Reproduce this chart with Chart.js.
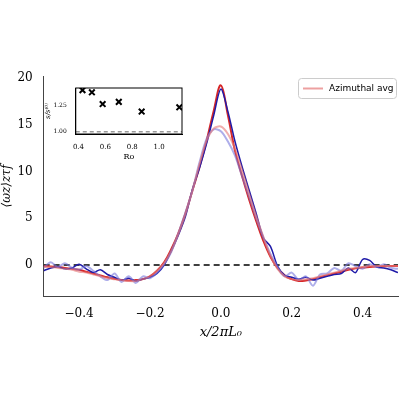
<!DOCTYPE html>
<html><head><script src="https://cdn.jsdelivr.net/npm/chart.js@4"></script>
<style>body{margin:0;background:#fff}#w{position:relative;width:400px;height:400px}
#ins{position:absolute;left:44px;top:82px;width:144px;height:80px;background:#fff}</style></head>
<body><div id="w"><canvas id="c" width="400" height="400"></canvas><div id="ins"><canvas id="c2" width="144" height="80"></canvas></div></div>
<script>
const xs=[-0.5,-0.48,-0.46,-0.44,-0.42,-0.4,-0.38,-0.36,-0.34,-0.32,-0.3,-0.28,-0.26,-0.24,-0.22,-0.2,-0.18,-0.16,-0.14,-0.12,-0.1,-0.08,-0.06,-0.04,-0.02,0,0.02,0.04,0.06,0.08,0.1,0.12,0.14,0.16,0.18,0.2,0.22,0.24,0.26,0.28,0.3,0.32,0.34,0.36,0.38,0.4,0.42,0.44,0.46,0.48,0.5];
const fitY=[-0.1,-0.15,-0.2,-0.3,-0.4,-0.5,-0.7,-0.9,-1.1,-1.3,-1.45,-1.6,-1.65,-1.6,-1.5,-1.2,-0.6,0.3,1.7,3.4,5.5,8,10.5,13.3,16.5,19.2,16,12.2,9.5,7,4.7,2.6,0.9,-0.3,-1.1,-1.5,-1.7,-1.65,-1.5,-1.3,-1.1,-0.9,-0.7,-0.5,-0.35,-0.25,-0.2,-0.15,-0.12,-0.1,-0.1];
const blueY=[-0.6,-0.3,-0.2,-0.4,-0.3,0.1,-0.4,-0.8,-0.5,-1.0,-1.3,-1.6,-1.4,-1.7,-1.5,-1.3,-0.9,0.0,1.5,3.2,5.2,8.1,10.4,13.0,16.0,18.8,16.4,13.2,10.5,8.0,5.5,2.9,2.0,-0.1,-1.1,-1.3,-1.5,-1.3,-1.6,-1.4,-1.2,-1.0,-0.9,-0.3,-0.8,0.6,0.5,-0.2,-0.3,-0.5,-0.8];
const lblueY=[-0.3,0.3,-0.2,0.2,-0.3,-0.5,-0.1,-0.6,-1.2,-1.6,-0.9,-1.8,-1.2,-1.9,-1.2,-1.4,-0.8,0.1,1.4,3.4,5.6,8.0,11.0,13.5,14.5,14.3,13.2,11.7,9.5,7.3,5.0,3.0,1.2,-0.2,-1.2,-0.8,-1.6,-1.2,-2.2,-1.0,-0.9,-0.3,-0.6,0.2,-0.1,-0.4,0.1,-0.2,0.1,-0.3,-0.4];
const avgY=[-0.2,-0.2,-0.3,-0.4,-0.5,-0.7,-0.8,-1.0,-1.2,-1.4,-1.5,-1.6,-1.7,-1.7,-1.5,-1.2,-0.6,0.2,1.5,3.3,5.4,8.0,10.8,13.3,14.6,14.8,14.0,12.4,10.1,7.6,5.2,3.0,1.0,-0.4,-1.2,-1.5,-1.6,-1.5,-1.4,-1.2,-1.0,-0.8,-0.6,-0.4,-0.3,-0.2,-0.1,-0.1,-0.1,-0.1,-0.1];
const roX=[0.43,0.5,0.58,0.7,0.87,1.15];
const sY=[1.39,1.37,1.26,1.28,1.19,1.23];
const P=(a)=>xs.map((x,i)=>({x,y:a[i]}));
const serif="'DejaVu Serif'";
const legendPlug={id:'lg',afterDraw(c){const a=c.chartArea,x=a.right-100,y=a.top+2,ctx=c.ctx;ctx.save();
ctx.fillStyle='rgba(255,255,255,0.9)';ctx.strokeStyle='#ccc';ctx.lineWidth=1;ctx.beginPath();ctx.roundRect(x+0.5,y+0.5,98,20,3);ctx.fill();ctx.stroke();
ctx.strokeStyle='rgba(230,120,120,0.7)';ctx.lineWidth=2;ctx.beginPath();ctx.moveTo(x+5,y+10.5);ctx.lineTo(x+25,y+10.5);ctx.stroke();
ctx.fillStyle='#000';ctx.font='9px "DejaVu Sans"';ctx.textBaseline='middle';ctx.fillText('Azimuthal avg',x+31,y+11);ctx.restore();}};
const frame={id:'fr',afterDraw(c){const a=c.chartArea,ctx=c.ctx;ctx.save();ctx.strokeStyle='#000';ctx.lineWidth=1;ctx.strokeRect(a.left,a.top,a.right-a.left,a.bottom-a.top);ctx.restore();}};
new Chart(document.getElementById('c'),{type:'scatter',plugins:[legendPlug],data:{datasets:[
{data:P(avgY),showLine:true,borderColor:'rgba(230,120,120,0.6)',borderWidth:2,pointRadius:0,tension:0.3},
{data:P(lblueY),showLine:true,borderColor:'rgba(120,120,220,0.6)',borderWidth:2,pointRadius:0,tension:0.3},
{data:P(blueY),showLine:true,borderColor:'#1f1aa8',borderWidth:1.5,pointRadius:0,tension:0.3},
{data:P(fitY),showLine:true,borderColor:'#d62728',borderWidth:2,pointRadius:0,tension:0.4},
{data:[{x:-0.5,y:0},{x:0.5,y:0}],showLine:true,borderColor:'#000',borderDash:[6,4],borderWidth:1.5,pointRadius:0}
]},options:{animation:false,responsive:false,layout:{padding:{top:76,right:2,bottom:60,left:0}},
plugins:{legend:{display:false},tooltip:{enabled:false}},
scales:{x:{type:'linear',min:-0.5,max:0.5,grid:{display:false},border:{color:'#444'},afterBuildTicks:a=>{a.ticks=[-0.4,-0.2,0,0.2,0.4].map(v=>({value:v}))},ticks:{color:'#000',font:{size:12,family:serif},callback:v=>Math.abs(v)<1e-9?'0.0':(v<0?'\u2212'+(-v).toFixed(1):v.toFixed(1))},title:{display:true,text:'x/2\u03c0L\u2080',color:'#000',font:{size:13,family:serif,style:'italic'},padding:0}},
y:{min:-3.3,max:20.2,grid:{display:false},border:{color:'#444'},afterBuildTicks:a=>{a.ticks=[0,5,10,15,20].map(v=>({value:v}))},ticks:{color:'#000',font:{size:12,family:serif}},title:{display:true,text:'\u27e8\u03c9z\u27e9z\u03c4f',color:'#000',font:{size:12,family:serif,style:'italic'},padding:0}}}}});
new Chart(document.getElementById('c2'),{type:'scatter',plugins:[frame],data:{datasets:[
{data:roX.map((x,i)=>({x,y:sY[i]})),pointStyle:'crossRot',pointRadius:4,borderColor:'#000',borderWidth:2},
{data:[{x:0.38,y:1},{x:1.17,y:1}],showLine:true,borderColor:'#999',borderDash:[4,3],borderWidth:1.5,pointRadius:0}
]},options:{animation:false,responsive:false,plugins:{legend:{display:false},tooltip:{enabled:false}},
scales:{x:{type:'linear',min:0.38,max:1.17,grid:{display:false},border:{color:'#000'},afterBuildTicks:a=>{a.ticks=[0.4,0.6,0.8,1.0].map(v=>({value:v}))},ticks:{color:'#000',font:{size:7,family:serif},padding:1,callback:v=>v.toFixed(1)},title:{display:true,text:'Ro',color:'#000',font:{size:8,family:serif},padding:0}},
y:{min:0.98,max:1.41,grid:{display:false},border:{color:'#000'},afterBuildTicks:a=>{a.ticks=[1.0,1.25].map(v=>({value:v}))},ticks:{color:'#000',font:{size:6,family:serif},padding:1,callback:v=>v.toFixed(2)},title:{display:true,text:'s/s\u207d\u2070\u207e',color:'#000',font:{size:7,family:serif,style:'italic'},padding:0}}}}});
</script></body></html>
